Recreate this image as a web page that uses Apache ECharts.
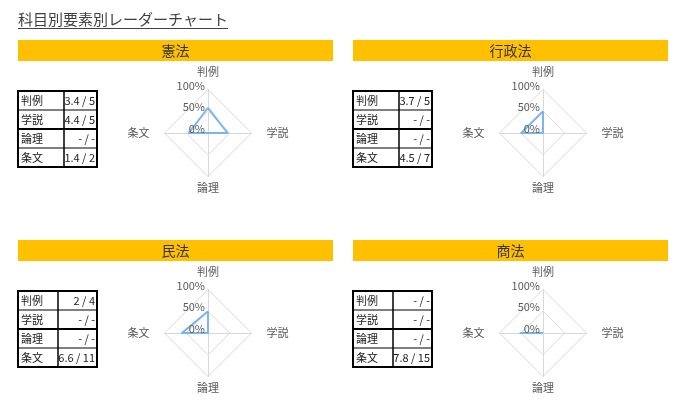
<!DOCTYPE html>
<html>
<head>
<meta charset="utf-8">
<script src="https://cdn.jsdelivr.net/npm/echarts@6/dist/echarts.min.js"></script>
<style>
  html, body { margin: 0; padding: 0; background: #fff; }
  #chart { width: 685px; height: 414px; }
</style>
</head>
<body>
<div id="chart"></div>
<script>
var chartTitle = '科目別要素別レーダーチャート';
var subjects = ['憲法', '行政法', '民法', '商法'];
var elements = ['判例', '学説', '論理', '条文'];
// table: score / total per element ('-' = none)
var scores = [
    ['3.4', '4.4', '-', '1.4'],
    ['3.7', '-', '-', '4.5'],
    ['2', '-', '-', '6.6'],
    ['-', '-', '-', '7.8']
];
var totals = [
    ['5', '5', '-', '2'],
    ['5', '-', '-', '7'],
    ['4', '-', '-', '11'],
    ['-', '-', '-', '15']
];
// plotted rate (%) per element, same order as elements
var rates = [
    [58, 45, 0, 44],
    [50, 0, 0, 50],
    [50, 0, 0, 60],
    [0, 0, 0, 52]
];
var rateTicks = [0, 50, 100];

// layout
var panelX = [18, 353, 18, 353];
var panelY = [0, 0, 200, 200];
var labelColW = [46, 46, 40, 40];
var radarOrder = [0, 3, 2, 1]; // top, left, bottom, right (counter-clockwise)
var nameKey = { '判例': 't', '学説': 'r', '論理': 'b', '条文': 'l' };
var font = '"Noto Sans CJK JP", "Noto Sans", sans-serif';
var R = 43.5;

var myChart = echarts.init(document.getElementById('chart'));

var graphics = [];
graphics.push({
    type: 'text', left: 18, top: 12,
    style: { text: chartTitle, fontSize: 15, fontFamily: font, fill: '#404040' }
});
graphics.push({
    type: 'line', shape: { x1: 18, y1: 28.5, x2: 228, y2: 28.5 },
    style: { stroke: '#404040', lineWidth: 1 }
});

var radars = [], series = [], grids = [], xAxes = [], yAxes = [];

for (var i = 0; i < subjects.length; i++) {
    var x0 = panelX[i], y0 = panelY[i];
    // header bar
    graphics.push({
        type: 'rect', shape: { x: x0, y: y0 + 40, width: 315, height: 21 },
        style: { fill: '#FFC000' }
    });
    graphics.push({
        type: 'text', x: x0 + 157.5, y: y0 + 50.5,
        style: { text: subjects[i], fontSize: 14, fontFamily: font, fill: '#333',
                 align: 'center', verticalAlign: 'middle' }
    });
    // table
    var tx = x0, ty = y0 + 91, tw = 79, rh = 19, lw = labelColW[i];
    for (var r = 0; r < elements.length; r++) {
        var val = scores[i][r] + ' / ' + totals[i][r];
        graphics.push({
            type: 'text', x: tx + 3, y: ty + rh * r + rh / 2 + 0.5,
            style: { text: elements[r], fontSize: 11, fontFamily: font, fill: '#222', verticalAlign: 'middle' }
        });
        graphics.push({
            type: 'text', x: tx + tw - 2, y: ty + rh * r + rh / 2 + 0.5,
            style: { text: val, fontSize: 11, fontFamily: font, fill: '#222',
                     align: 'right', verticalAlign: 'middle' }
        });
        if (r > 0) {
            graphics.push({
                type: 'line', shape: { x1: tx, y1: ty + rh * r, x2: tx + tw, y2: ty + rh * r },
                style: { stroke: '#000', lineWidth: r == 2 ? 2 : 1 }
            });
        }
    }
    graphics.push({
        type: 'line', shape: { x1: tx + lw, y1: ty, x2: tx + lw, y2: ty + rh * 4 },
        style: { stroke: '#000', lineWidth: 1.5 }
    });
    graphics.push({
        type: 'rect', shape: { x: tx, y: ty, width: tw, height: rh * 4 },
        style: { fill: 'none', stroke: '#000', lineWidth: 2 }
    });

    // radar
    var cx = x0 + 190, cy = y0 + 133;
    radars.push({
        center: [cx, cy],
        radius: R,
        shape: 'polygon',
        splitNumber: 2,
        nameGap: 6,
        indicator: radarOrder.map(function (k) { return { name: elements[k], min: 0, max: 100 }; }),
        axisName: {
            color: '#595959', fontSize: 11, fontFamily: font,
            formatter: function (name) { return '{' + nameKey[name] + '|' + name + '}'; },
            rich: {
                t: { color: '#595959', fontSize: 11, fontFamily: font, padding: [0, 0, 6, 0] },
                b: { color: '#595959', fontSize: 11, fontFamily: font },
                l: { color: '#595959', fontSize: 11, fontFamily: font, padding: [0, 9, 0, 0] },
                r: { color: '#595959', fontSize: 11, fontFamily: font, padding: [0, 0, 0, 9] }
            }
        },
        axisLine: { lineStyle: { color: '#d9d9d9', width: 1 } },
        splitLine: { lineStyle: { color: '#d9d9d9', width: 1 } },
        splitArea: { show: false }
    });
    series.push({
        type: 'radar',
        radarIndex: i,
        symbol: 'none',
        lineStyle: { color: '#7CB4EE', width: 2 },
        data: [{ value: radarOrder.map(function (k) { return rates[i][k]; }) }]
    });
    // percent labels on the vertical axis
    grids.push({ left: cx, top: cy - R, width: 1, height: R });
    xAxes.push({ gridIndex: i, type: 'value', show: false });
    yAxes.push({
        gridIndex: i, type: 'value',
        min: rateTicks[0], max: rateTicks[rateTicks.length - 1],
        interval: rateTicks[1] - rateTicks[0],
        axisLine: { show: false }, axisTick: { show: false }, splitLine: { show: false },
        axisLabel: {
            formatter: '{value}%', color: '#595959', fontSize: 11, fontFamily: font,
            margin: 3, verticalAlign: 'bottom', lineHeight: 8
        },
        z: 5
    });
}

var option = {
    animation: false,
    backgroundColor: '#fff',
    graphic: graphics,
    radar: radars,
    grid: grids,
    xAxis: xAxes,
    yAxis: yAxes,
    series: series
};
myChart.setOption(option);
</script>
</body>
</html>
